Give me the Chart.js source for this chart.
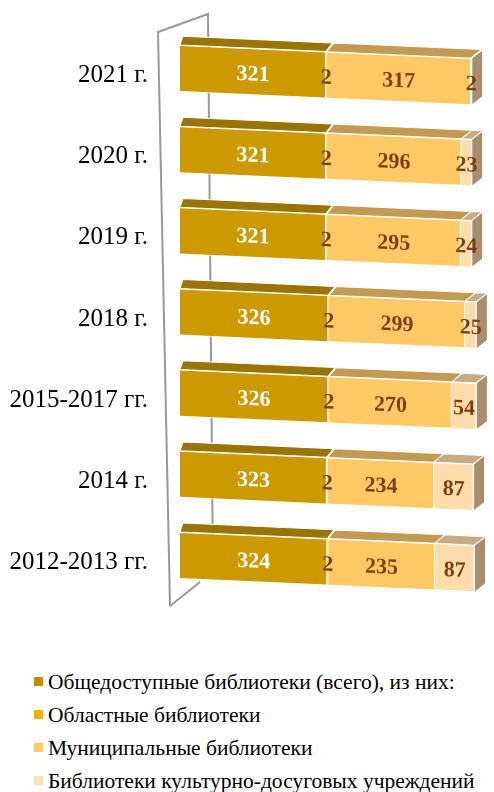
<!DOCTYPE html>
<html>
<head>
<meta charset="utf-8">
<script src="https://cdn.jsdelivr.net/npm/chart.js@4/dist/chart.umd.min.js"></script>
<style>
  html, body { margin: 0; padding: 0; background: #fff; }
  #wrap { position: relative; width: 494px; height: 792px; overflow: hidden; }
  #chart-box { position: absolute; left: 0; top: 0; width: 494px; height: 650px; }
  #legend { position: absolute; left: 34px; top: 666px; font-family: 'Liberation Serif', serif; font-size: 21.5px; color: #000; }
  #legend div { height: 33px; line-height: 33px; white-space: nowrap; }
  #legend span { display: inline-block; width: 9px; height: 9px; margin-right: 5px; vertical-align: 3px; }
</style>
</head>
<body>
<div id="wrap">
  <div id="chart-box"><canvas id="c"></canvas></div>
  <div id="legend"></div>
</div>
<script>
const categories = ['2021 г.', '2020 г.', '2019 г.', '2018 г.', '2015-2017 гг.', '2014 г.', '2012-2013 гг.'];
const seriesNames = [
  'Общедоступные библиотеки (всего), из них:',
  'Областные библиотеки',
  'Муниципальные библиотеки',
  'Библиотеки культурно-досуговых учреждений'
];
const totalLibs = [321, 321, 321, 326, 326, 323, 324];
const regionalLibs = [2, 2, 2, 2, 2, 2, 2];
const municipalLibs = [317, 296, 295, 299, 270, 234, 235];
const clubLibs = [2, 23, 24, 25, 54, 87, 87];

const frontColors = ['#CC9900', '#F2B800', '#FFC966', '#FFDDAA'];
const topColors = ['#9A7400', '#B88C00', '#C49A52', '#C8AA84'];
const sideColors = ['#8C6C00', '#A07A00', '#A88A60', '#A88D6E'];
const legendColors = ['#C39000', '#F0B400', '#FFC966', '#FFE0B0'];
const labelColors = ['#FFFFFF', '#843C0C', '#843C0C', '#843C0C'];

const SHEAR = 0.045;   // perspective tilt of the front faces
const DEPTH_Y = 9;

// legend
const legendEl = document.getElementById('legend');
seriesNames.forEach((name, i) => {
  const row = document.createElement('div');
  row.innerHTML = `<span style="background:${legendColors[i]}"></span>${name}`;
  legendEl.appendChild(row);
});

const threeD = {
  id: 'threeD',
  beforeDatasetsDraw: chart => {
    const ctx = chart.ctx;
    const a = chart.chartArea;
    // back wall outline
    ctx.save();
    ctx.strokeStyle = '#999999';
    ctx.lineWidth = 2;
    ctx.beginPath();
    ctx.moveTo(a.left - 10, a.bottom + 10);
    ctx.lineTo(a.left - 22, a.top + 4);
    ctx.lineTo(a.left + 28, a.top - 14);
    ctx.lineTo(a.left + 33, a.bottom - 20);
    ctx.moveTo(a.left - 10, a.bottom + 10);
    ctx.lineTo(a.left + 20, a.bottom - 14);
    ctx.stroke();
    ctx.restore();

    ctx.save();
    ctx.transform(1, SHEAR, 0, 1, 0, -SHEAR * a.left);
  },
  afterDatasetsDraw: chart => {
    const ctx = chart.ctx;
    const a = chart.chartArea;
    const dx = x => 3 + (x - a.left) * 0.027;
    const nSeries = chart.data.datasets.length;

    chart.data.labels.forEach((_, idx) => {
      let last = null;
      for (let d = 0; d < nSeries; d++) {
        const bar = chart.getDatasetMeta(d).data[idx];
        const top = bar.y - bar.height / 2;
        const x0 = bar.base, x1 = bar.x;
        // top face
        ctx.beginPath();
        ctx.moveTo(x0, top);
        ctx.lineTo(x1, top);
        ctx.lineTo(x1 + dx(x1), top - DEPTH_Y);
        ctx.lineTo(x0 + dx(x0), top - DEPTH_Y);
        ctx.closePath();
        ctx.fillStyle = topColors[d];
        ctx.fill();
        ctx.strokeStyle = '#FFFFFF';
        ctx.lineWidth = 1;
        ctx.stroke();
        last = { bar, d };
      }
      // side face on right end
      const b = last.bar;
      const top = b.y - b.height / 2, bot = b.y + b.height / 2;
      const x1 = b.x;
      ctx.beginPath();
      ctx.moveTo(x1, top);
      ctx.lineTo(x1 + dx(x1), top - DEPTH_Y);
      ctx.lineTo(x1 + dx(x1), bot - DEPTH_Y);
      ctx.lineTo(x1, bot);
      ctx.closePath();
      ctx.fillStyle = sideColors[last.d];
      ctx.fill();
      ctx.strokeStyle = '#FFFFFF';
      ctx.lineWidth = 1;
      ctx.stroke();
    });

    // value labels
    ctx.font = 'bold 22px "Liberation Serif"';
    ctx.textAlign = 'center';
    ctx.textBaseline = 'middle';
    chart.data.datasets.forEach((ds, d) => {
      chart.getDatasetMeta(d).data.forEach((bar, idx) => {
        const cx = (bar.base + bar.x) / 2;
        ctx.fillStyle = labelColors[d];
        ctx.fillText(String(ds.data[idx]), cx, bar.y + 3);
      });
    });
    ctx.restore();
  }
};

const makeSet = (label, data, i) => ({
  label: label,
  data: data,
  backgroundColor: frontColors[i],
  borderColor: '#FFFFFF',
  borderWidth: 1,
  clip: false,
});

new Chart(document.getElementById('c'), {
  type: 'bar',
  data: {
    labels: categories,
    datasets: [
      makeSet(seriesNames[0], totalLibs, 0),
      makeSet(seriesNames[1], regionalLibs, 1),
      makeSet(seriesNames[2], municipalLibs, 2),
      makeSet(seriesNames[3], clubLibs, 3),
    ],
  },
  plugins: [threeD],
  options: {
    indexAxis: 'y',
    animation: false,
    responsive: true,
    maintainAspectRatio: false,
    datasets: { bar: { categoryPercentage: 1, barPercentage: 0.58 } },
    layout: { padding: { left: 0, right: 14, top: 28, bottom: 54 } },
    plugins: { legend: { display: false }, tooltip: { enabled: false } },
    scales: {
      x: { stacked: true, display: false, min: 0, max: 660 },
      y: {
        stacked: true,
        afterFit: scale => { scale.width = 180; },
        grid: { display: false, drawTicks: true, tickLength: 32 },
        border: { display: false },
        ticks: {
          padding: 0,
          labelOffset: 7,
          color: '#000',
          font: { family: 'Liberation Serif', size: 25 },
        },
      },
    },
  },
});
</script>
</body>
</html>
